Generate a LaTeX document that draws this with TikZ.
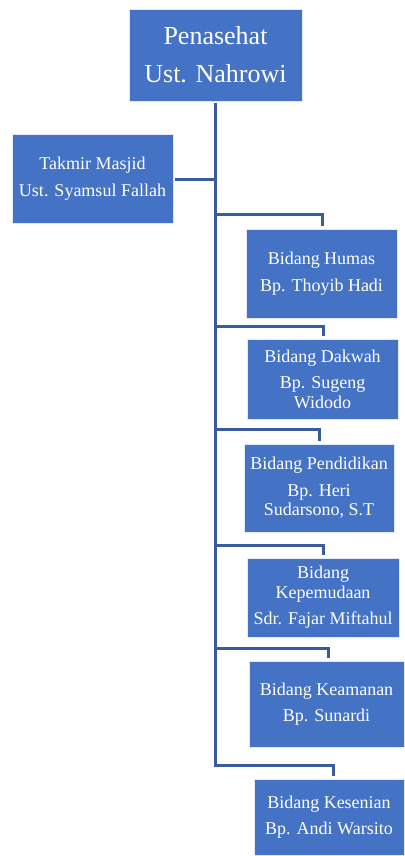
\documentclass[tikz,border=0pt]{standalone}
\usepackage{fontspec}
\setmainfont{Liberation Serif}
\definecolor{boxblue}{HTML}{4472C4}
\definecolor{linkblue}{HTML}{3A5C9E}
\begin{document}
\begin{tikzpicture}[x=1pt,y=-1pt,
  orgbox/.style={draw=white!85!boxblue, line width=0.6pt, fill=boxblue, text=white, align=center,
     inner sep=0pt, font=\fontsize{18}{19.5}\selectfont},
  link/.style={draw=linkblue, line width=3pt}]
\useasboundingbox[fill=white] (0,0) rectangle (404,856);
\node[orgbox, minimum width=173pt, minimum height=92pt, font=\fontsize{26}{38}\selectfont] (P) at (215.5,55) {Penasehat\\Ust. Nahrowi};
\node[orgbox, minimum width=161pt, minimum height=89pt] (T) at (92.5,178.5) {Takmir Masjid\\[7pt]Ust. Syamsul Fallah};
\node[orgbox, minimum width=151pt, minimum height=89pt] (H) at (321.5,273.5) {Bidang Humas\\[7pt]Bp. Thoyib Hadi};
\node[orgbox, minimum width=151pt, minimum height=80pt] (D) at (322.5,379) {Bidang Dakwah\\[7pt]Bp. Sugeng\\Widodo};
\node[orgbox, minimum width=150pt, minimum height=88pt] (Pe) at (319,488) {Bidang Pendidikan\\[7pt]Bp. Heri\\Sudarsono, S.T};
\node[orgbox, minimum width=152pt, minimum height=79pt] (K) at (323,597.5) {Bidang\\Kepemudaan\\[7pt]Sdr. Fajar Miftahul};
\node[orgbox, minimum width=155pt, minimum height=86pt] (Ke) at (326.5,704) {Bidang Keamanan\\[7pt]Bp. Sunardi};
\node[orgbox, minimum width=150pt, minimum height=76pt] (Ks) at (329,817) {Bidang Kesenian\\[7pt]Bp. Andi Warsito};

\coordinate (tT) at (215.5,179);
\coordinate (b1) at (215.5,214);
\coordinate (b2) at (215.5,326);
\coordinate (b3) at (215.5,429);
\coordinate (b4) at (215.5,545);
\coordinate (b5) at (215.5,648);
\coordinate (b6) at (215.5,765);
\coordinate (d1) at (322,229);
\coordinate (d2) at (323,339);
\coordinate (d3) at (319,444);
\coordinate (d4) at (323,558);
\coordinate (d5) at (328,661);
\coordinate (d6) at (333,779);

\draw[link, shorten <=2pt, shorten >=2pt] (tT) -- (T.east |- tT);
\draw[link, shorten >=3pt] (b1) -| (d1);
\draw[link, shorten >=3pt] (b2) -| (d2);
\draw[link, shorten >=3pt] (b3) -| (d3);
\draw[link, shorten >=3pt] (b4) -| (d4);
\draw[link, shorten >=3pt] (b5) -| (d5);
\draw[link, shorten <=2pt, shorten >=3pt] (P.south) -- (b6) -| (d6);
\end{tikzpicture}
\end{document}
